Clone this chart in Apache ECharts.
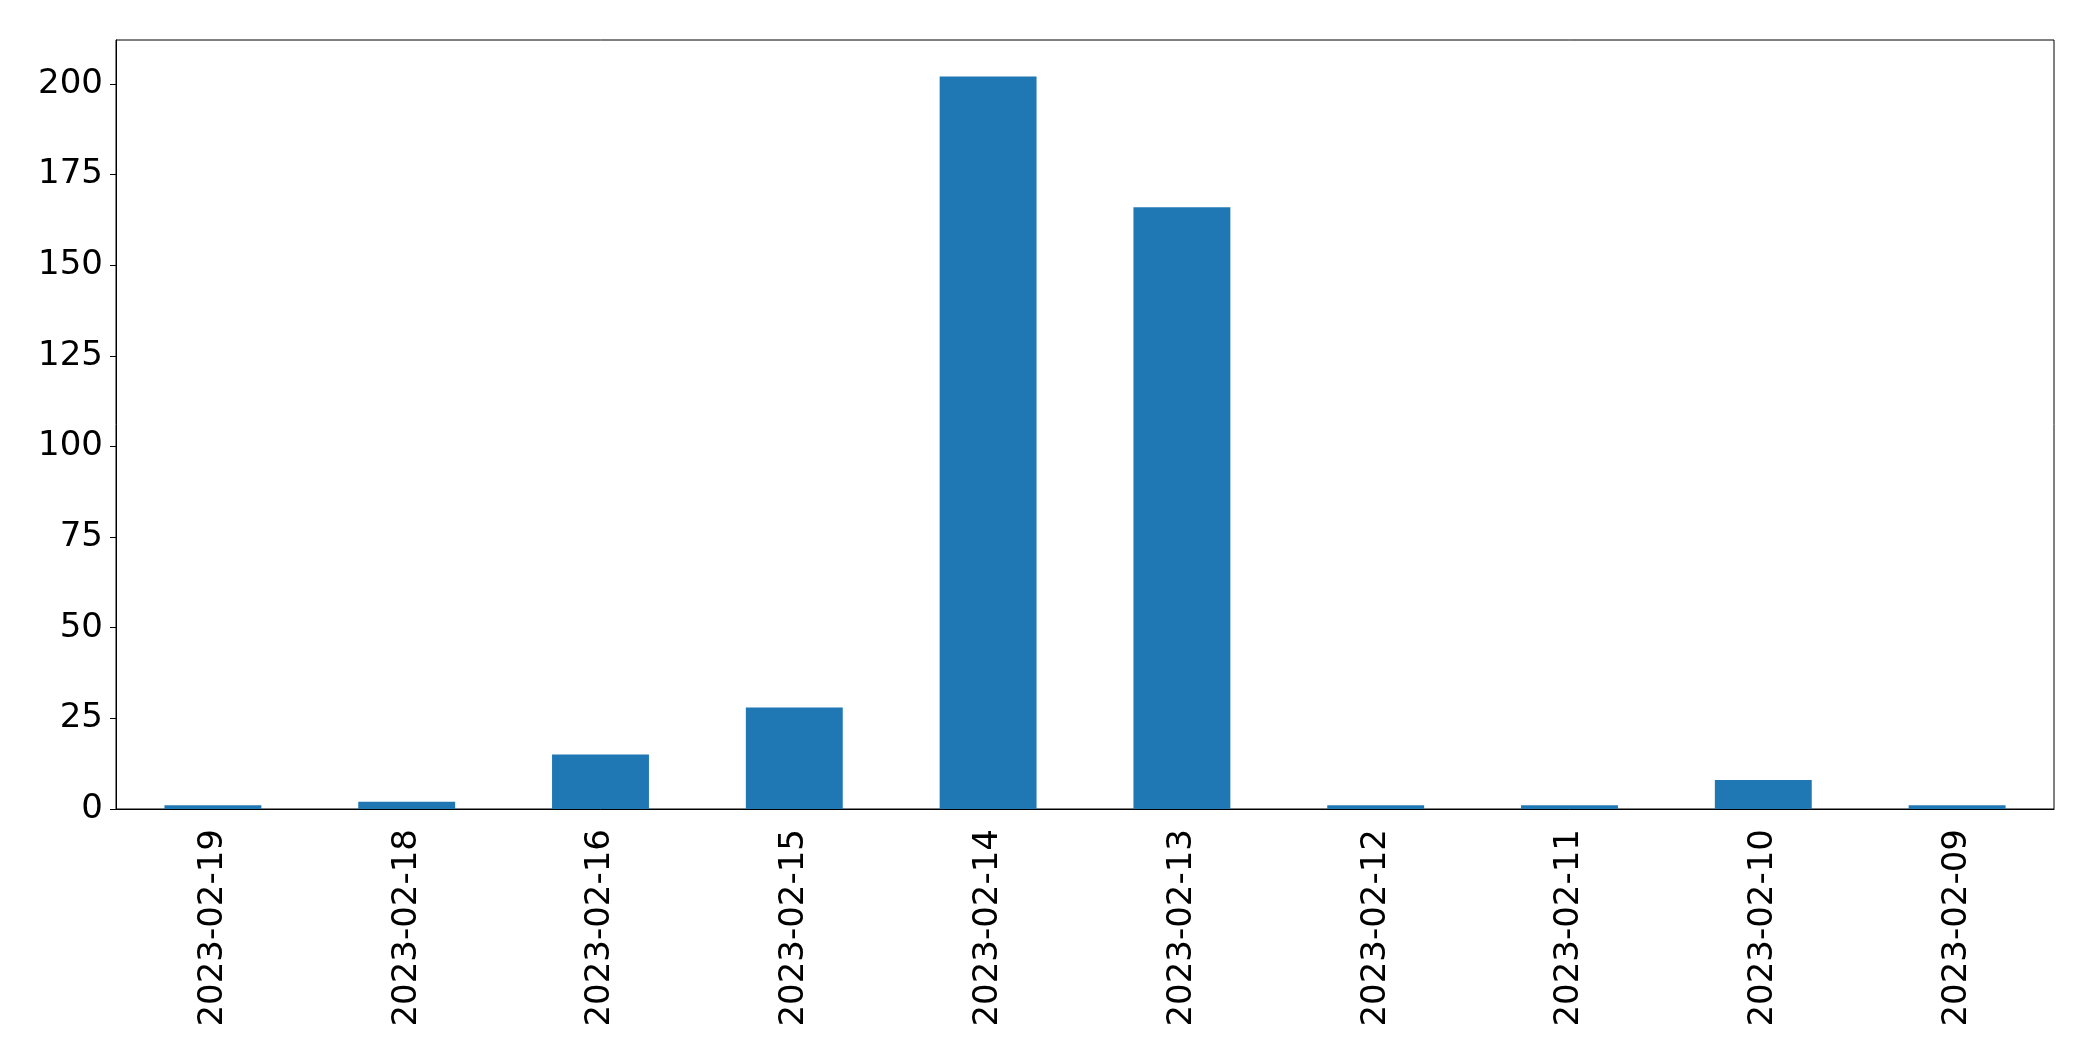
<!DOCTYPE html>
<html>
<head>
<meta charset="utf-8">
<script src="https://cdn.jsdelivr.net/npm/echarts@6/dist/echarts.min.js"></script>
<style>
html,body{margin:0;padding:0;background:#fff;}
#chart{width:2093px;height:1061px;}
</style>
</head>
<body>
<div id="chart"></div>
<script>
const categories = ['2023-02-19','2023-02-18','2023-02-16','2023-02-15','2023-02-14','2023-02-13','2023-02-12','2023-02-11','2023-02-10','2023-02-09'];
const values = [1, 2, 15, 28, 202, 166, 1, 1, 8, 1];
const yTicks = [0, 25, 50, 75, 100, 125, 150, 175, 200];

const chart = echarts.init(document.getElementById('chart'));
const font = 'DejaVu Sans';
chart.setOption({
  animation: false,
  backgroundColor: '#fff',
  grid: {left: 116, top: 40, right: 39, bottom: 252, show: true, borderColor: '#000', borderWidth: 1, backgroundColor: 'transparent', containLabel: false},
  xAxis: {
    type: 'category',
    data: categories,
    axisLine: {lineStyle: {color: '#000', width: 1}},
    axisTick: {alignWithLabel: true, length: 6, lineStyle: {color: '#000'}},
    axisLabel: {rotate: 90, fontFamily: font, fontSize: 34, color: '#000', margin: 20, interval: 0}
  },
  yAxis: {
    type: 'value',
    min: 0,
    max: 212.1,
    splitLine: {show: false},
    axisLine: {show: true, lineStyle: {color: '#000', width: 1}},
    axisTick: {show: true, length: 6, lineStyle: {color: '#000'}, customValues: yTicks},
    axisLabel: {fontFamily: font, fontSize: 34, color: '#000', margin: 13, customValues: yTicks}
  },
  series: [{
    type: 'bar',
    data: values,
    barWidth: '50%',
    itemStyle: {color: '#1f77b4'}
  }]
});
</script>
</body>
</html>
